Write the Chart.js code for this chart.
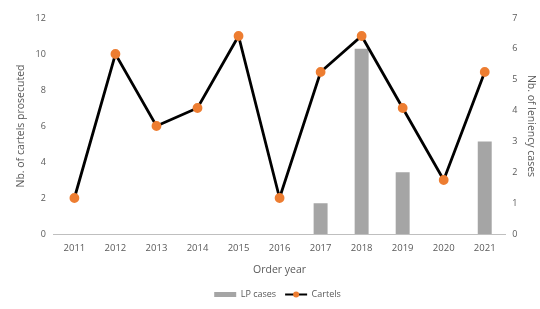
<!DOCTYPE html>
<html>
<head>
<meta charset="utf-8">
<script src="https://cdn.jsdelivr.net/npm/chart.js@4/dist/chart.umd.min.js"></script>
<style>
  html, body { margin: 0; padding: 0; background: #fff; }
  #wrap { width: 540px; height: 309px; }
</style>
</head>
<body>
<div id="wrap"><canvas id="c"></canvas></div>
<script>
const years = ['2011', '2012', '2013', '2014', '2015', '2016', '2017', '2018', '2019', '2020', '2021'];
const lpCases = [null, null, null, null, null, null, 1, 6, 2, null, 3];
const cartels = [2, 10, 6, 7, 11, 2, 9, 11, 7, 3, 9];

const tickColor = '#595959';
const fontFamily = "'Open Sans', 'Liberation Sans', sans-serif";

// line + dot on the Cartels legend entry
const legendLine = {
  id: 'legendLine',
  afterDraw(chart) {
    const legend = chart.legend;
    if (!legend || !legend.legendHitBoxes) return;
    const box = legend.legendHitBoxes[1];
    if (!box) return;
    const c = chart.ctx;
    const bw = legend.options.labels.boxWidth;
    const y = box.top + box.height / 2;
    c.save();
    c.strokeStyle = '#000';
    c.lineWidth = 2;
    c.beginPath();
    c.moveTo(box.left, y);
    c.lineTo(box.left + bw, y);
    c.stroke();
    c.fillStyle = '#ED7D31';
    c.beginPath();
    c.arc(box.left + bw / 2, y, 3, 0, Math.PI * 2);
    c.fill();
    c.restore();
  }
};

const ctx = document.getElementById('c').getContext('2d');
new Chart(ctx, {
  data: {
    labels: years,
    datasets: [
      {
        type: 'bar',
        label: 'LP cases',
        data: lpCases,
        yAxisID: 'yR',
        backgroundColor: '#A5A5A5',
        barPercentage: 0.34,
        categoryPercentage: 1,
        order: 2,
      },
      {
        type: 'line',
        label: 'Cartels',
        data: cartels,
        yAxisID: 'yL',
        borderColor: '#000000',
        backgroundColor: '#ED7D31',
        borderWidth: 2.8,
        pointRadius: 3.5,
        pointBackgroundColor: '#ED7D31',
        pointBorderColor: '#ED7D31',
        tension: 0,
        order: 1,
      },
    ],
  },
  options: {
    responsive: true,
    maintainAspectRatio: false,
    animation: false,
    layout: { padding: { top: 18, left: 15, right: 0, bottom: 0 } },
    plugins: {
      tooltip: { enabled: false },
      legend: {
        position: 'bottom',
        labels: {
          color: tickColor,
          font: { family: fontFamily, size: 9 },
          boxWidth: 22,
          boxHeight: 5,
          padding: 9,
          generateLabels(chart) {
            return chart.data.datasets.map((ds, i) => ({
              text: ds.label,
              fillStyle: ds.type === 'bar' ? '#A5A5A5' : 'rgba(0,0,0,0)',
              strokeStyle: 'rgba(0,0,0,0)',
              lineWidth: 0,
              fontColor: tickColor,
              datasetIndex: i,
            }));
          },
        },
      },
    },
    scales: {
      x: {
        grid: { display: false, drawTicks: false },
        border: { display: true, color: '#BFBFBF', width: 1 },
        ticks: { color: tickColor, font: { family: fontFamily, size: 9.5 }, padding: 9, maxRotation: 0 },
        title: { display: true, text: 'Order year', color: tickColor, font: { family: fontFamily, size: 10.5 }, padding: { top: 0, bottom: 5 } },
      },
      yL: {
        position: 'left',
        min: 0,
        max: 12,
        ticks: { stepSize: 2, color: tickColor, font: { family: fontFamily, size: 9 }, padding: 8 },
        grid: { display: false, drawTicks: false },
        border: { display: false },
        title: { display: true, text: 'Nb. of cartels prosecuted', color: tickColor, font: { family: fontFamily, size: 10.5 }, padding: { top: 0, bottom: 0 } },
      },
      yR: {
        position: 'right',
        min: 0,
        max: 7,
        ticks: { stepSize: 1, color: tickColor, font: { family: fontFamily, size: 9 }, padding: 7 },
        grid: { display: false, drawTicks: false },
        border: { display: false },
        title: { display: true, text: 'Nb. of leniency cases', color: tickColor, font: { family: fontFamily, size: 10.5 }, padding: { top: 3, bottom: 0 } },
      },
    },
  },
  plugins: [legendLine],
});
</script>
</body>
</html>
